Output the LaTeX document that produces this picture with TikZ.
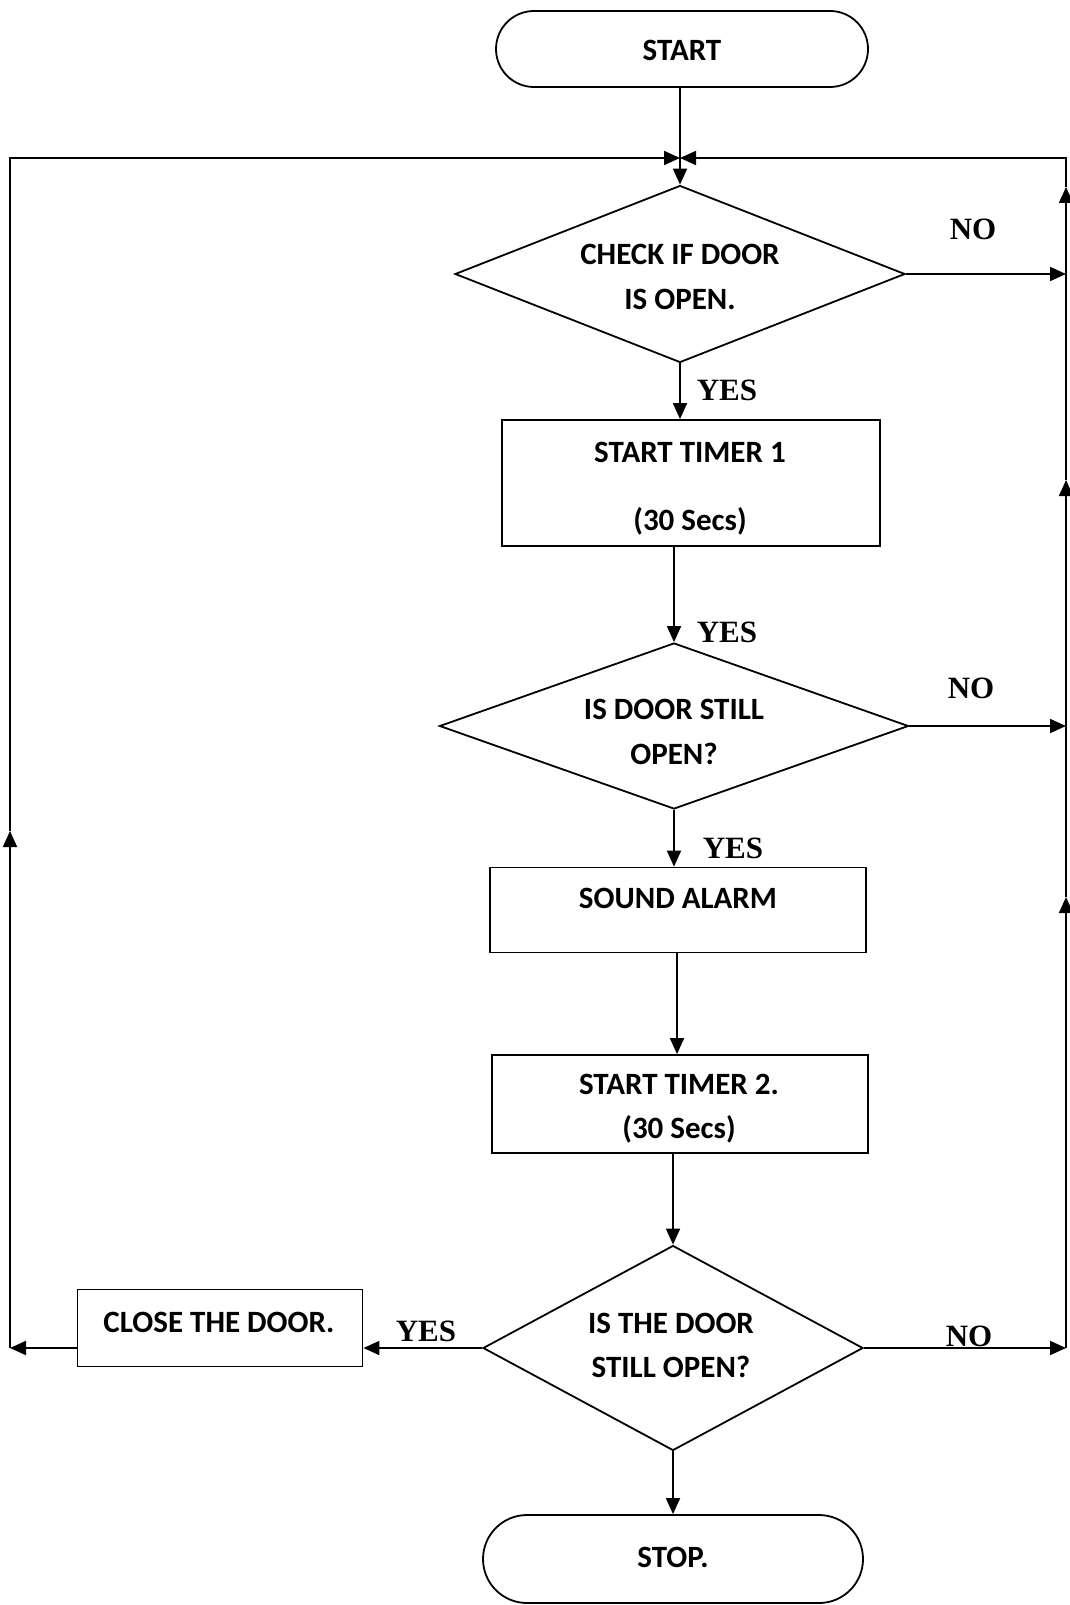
\documentclass[tikz,border=0pt]{standalone}
\usepackage{fontspec}
\setmainfont{Carlito}
\newfontfamily\tnr{Liberation Serif}
\usetikzlibrary{shapes.geometric,shapes.misc,arrows.meta}
\begin{document}
\begin{tikzpicture}[x=1pt,y=-1pt,
  ln/.style={line width=1.8pt, draw=black},
  arr/.style={ln, -{Triangle[length=16pt,width=14pt]}},
  boxn/.style={draw, line width=1.8pt, rectangle, inner sep=0pt},
  dia/.style={draw, line width=1.8pt, diamond, inner sep=0pt},
  term/.style={draw, line width=1.8pt, rounded rectangle, inner sep=0pt},
  txt/.style={font=\fontsize{31}{36}\selectfont\bfseries, inner sep=0pt},
  lbl/.style={font=\fontsize{31}{36}\selectfont\tnr\bfseries, inner sep=0pt}
]
\useasboundingbox[fill=white] (0,0) rectangle (1070,1605);

% shapes
\node[term, minimum width=372pt, minimum height=76pt] (start) at (682,49) {};
\node[txt] (tstart) at (682,50) {START};

\node[dia, minimum width=450pt, minimum height=177pt] (d1) at (680,274) {};
\node[txt] (t1a) at (680,254) {CHECK IF DOOR};
\node[txt] (t1b) at (680,299) {IS OPEN.};

\node[boxn, minimum width=378pt, minimum height=126pt] (b1) at (691,483) {};
\node[txt] (tb1a) at (690,452) {START TIMER 1};
\node[txt] (tb1b) at (690,521) {(30 Secs)};

\node[dia, minimum width=469pt, minimum height=166pt] (d2) at (674,726) {};
\node[txt] (t2a) at (674,709) {IS DOOR STILL};
\node[txt] (t2b) at (674,754) {OPEN?};

\node[boxn, minimum width=376pt, minimum height=85pt] (b2) at (678,910) {};
\node[txt] (tb2) at (678,898) {SOUND ALARM};

\node[boxn, minimum width=376pt, minimum height=98pt] (b3) at (680,1104) {};
\node[txt] (tb3a) at (679,1084) {START TIMER 2.};
\node[txt] (tb3b) at (679,1129) {(30 Secs)};

\node[dia, minimum width=380pt, minimum height=205pt] (d3) at (673,1348) {};
\node[txt] (t3a) at (671,1323) {IS THE DOOR};
\node[txt] (t3b) at (671,1367) {STILL OPEN?};

\node[boxn, minimum width=285pt, minimum height=77pt] (close) at (220,1328) {};
\node[txt] (tclose) at (219,1322) {CLOSE THE DOOR.};

\node[term, minimum width=380pt, minimum height=88pt] (stop) at (673,1559) {};
\node[txt] (tstop) at (673,1557) {STOP.};

% labels
\node[lbl] (no1) at (973,229) {NO};
\node[lbl] (yes1) at (727,390) {YES};
\node[lbl] (yes2) at (727,632) {YES};
\node[lbl] (no2) at (971,688) {NO};
\node[lbl] (yes3) at (733,848) {YES};
\node[lbl] (yes4) at (426,1331) {YES};
\node[lbl] (no3) at (969,1336) {NO};

% coordinates
\coordinate (J) at (680,158);
\coordinate (LT) at (10,158);
\coordinate (LM) at (10,831);
\coordinate (LB) at (10,1348);
\coordinate (RT) at (1066,158);
\coordinate (R0) at (1066,187);
\coordinate (R1) at (1066,274);
\coordinate (R1a) at (1066,480);
\coordinate (R2) at (1066,726);
\coordinate (R2a) at (1066,897);
\coordinate (R3) at (1066,1348);

% connectors
\draw[arr] (start.south -| J) -- (d1.north);
\draw[arr] (d1.south) -- (d1.south |- b1.north);
\draw[arr] (d2.north |- b1.south) -- (d2.north);
\draw[arr] (d2.south) -- (d2.south |- b2.north);
\draw[arr] (677,952) coordinate (b2s) -- (b2s |- b3.north);
\draw[arr] (d3.north |- b3.south) -- (d3.north);
\draw[arr] (d3.south) -- (stop.north);
\draw[arr] (d3.west) -- (d3.west -| close.east);
\draw[arr] (d3.west -| close.west) -- (LB);
\draw[arr] (LB) -- (LM);
\draw[arr] (LM) -- (LT) -- (J);

\draw[arr] (d1.east) -- (R1);
\draw[arr] (d2.east) -- (R2);
\draw[arr] (d3.east) -- (R3);
\draw[arr] (R3) -- (R2a);
\draw[arr] (R2a) -- (R1a);
\draw[arr] (R1a) -- (R0);
\draw[arr] (R0) -- (RT) -- (J);
\end{tikzpicture}
\end{document}
